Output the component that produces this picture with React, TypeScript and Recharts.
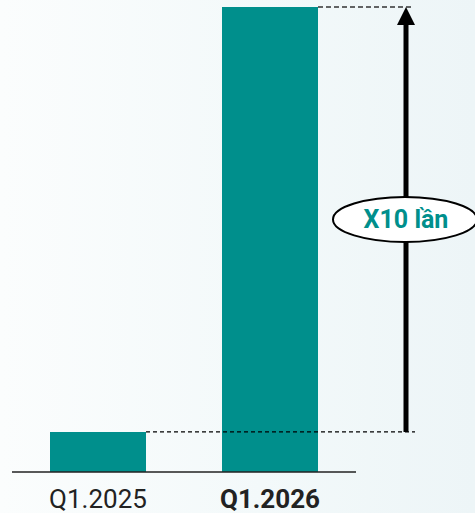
import { Bar, BarChart, Cell, XAxis, YAxis } from "recharts"

const quarters = ["Q1.2025", "Q1.2026"]
const revenue = [1, 11.6]
const badge = "X10 lần"

const data = quarters.map((q, i) => ({ q, v: revenue[i] }))

const teal = "#008f8c"
const arrowX = 406

function QuarterTick({ x, y, payload, index }: any) {
  return (
    <text
      x={x}
      y={y + 28}
      textAnchor="middle"
      fontFamily="Roboto"
      fontSize={26}
      fontWeight={index === 1 ? 700 : 400}
      fill="#222"
    >
      {payload.value}
    </text>
  )
}

function BarMarks({ x, y, width, height, index }: any) {
  if (index === 0) {
    return (
      <line x1={x + width} y1={y} x2={arrowX + 9} y2={y} stroke="#000" strokeWidth={1.2} strokeDasharray="4 3" />
    )
  }
  // bottom of arrow sits at the first bar's top, scaled from the data
  const base = y + height
  const lowY = base - (height * revenue[0]) / revenue[1]
  const midY = (y + lowY) / 2
  return (
    <g>
      <line x1={x + width} y1={y} x2={arrowX + 7} y2={y} stroke="#333" strokeWidth={1.4} strokeDasharray="5 3" />
      <line x1={arrowX} y1={lowY} x2={arrowX} y2={y + 16} stroke="#000" strokeWidth={5} />
      <polygon points={`${arrowX},${y} ${arrowX - 9},${y + 18} ${arrowX + 9},${y + 18}`} fill="#000" />
      <ellipse cx={arrowX - 1} cy={midY} rx={72} ry={22.5} fill="#fff" stroke="#000" strokeWidth={2} />
      <text
        x={arrowX}
        y={midY + 8.5}
        textAnchor="middle"
        fontFamily="Roboto"
        fontSize={25}
        fontWeight={700}
        fill={teal}
      >
        {badge}
      </text>
    </g>
  )
}

export default function App() {
  return (
    <div
      style={{
        position: "absolute",
        left: 0,
        top: 0,
        width: 475,
        height: 513,
        overflow: "hidden",
        background: "linear-gradient(90deg, #fbfdfd 0%, #f3f9fa 55%, #edf5f7 100%)",
      }}
    >
      <BarChart width={475} height={513} data={data} margin={{ top: 7, right: 119, bottom: 0, left: 12 }}>
        <XAxis
          dataKey="q"
          height={41}
          tickLine={false}
          axisLine={{ stroke: "#222", strokeWidth: 1.5 }}
          tick={<QuarterTick />}
          interval={0}
        />
        <YAxis hide domain={[0, revenue[1]]} />
        <Bar dataKey="v" barSize={96} isAnimationActive={false} label={<BarMarks />}>
          {data.map((_, i) => (
            <Cell key={i} fill={teal} />
          ))}
        </Bar>
      </BarChart>
    </div>
  )
}
